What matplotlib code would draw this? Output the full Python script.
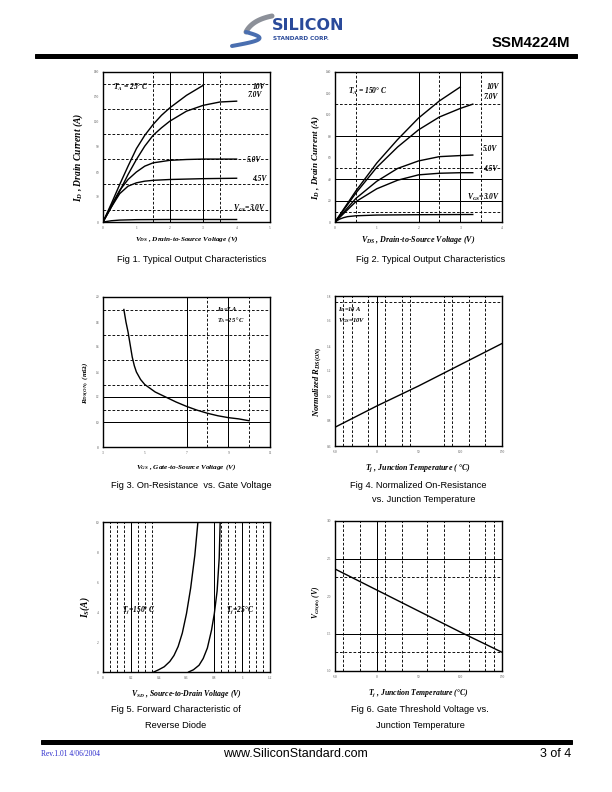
import numpy as np
import matplotlib
matplotlib.use("Agg")
import matplotlib.pyplot as plt
from matplotlib.patches import Rectangle

plt.rcParams['font.family'] = 'Liberation Serif'
plt.rcParams['mathtext.fontset'] = 'custom'
plt.rcParams['mathtext.it'] = 'Liberation Serif:italic:bold'
plt.rcParams['mathtext.rm'] = 'Liberation Serif:bold'
plt.rcParams['mathtext.bf'] = 'Liberation Serif:bold'

# ---- data ----
# Fig 1 : output characteristics, Ta = 25C
f1_vds_10 = [0, 0.25, 0.5, 0.75, 1, 1.25, 1.5, 1.75, 2, 2.5, 3]
f1_id_10 = [0, 22, 45, 67, 88, 104, 117, 128, 137, 152, 164]
f1_vds_7 = [0, 0.25, 0.5, 0.75, 1, 1.25, 1.5, 1.75, 2, 2.5, 3, 3.5, 4]
f1_id_7 = [0, 18, 37, 57, 75, 91, 104, 113, 121, 133, 140, 144, 145]
f1_vds_5 = [0, 0.25, 0.5, 0.75, 1, 1.25, 1.5, 2, 2.5, 3, 3.5, 4]
f1_id_5 = [0, 20, 38, 51, 60, 67, 71, 74, 75, 75.5, 75.5, 75.5]
f1_vds_45 = [0, 0.25, 0.5, 0.75, 1, 1.25, 1.5, 2, 3, 4]
f1_id_45 = [0, 18, 34, 43, 47, 49, 50, 51, 52, 52.5]
f1_vds_3 = [0, 0.25, 0.5, 1, 2, 3, 4]
f1_id_3 = [0, 1.5, 2.3, 2.8, 3, 3, 3]

# Fig 2 : output characteristics, Ta = 150C
f2_vds_10 = [0, 0.5, 1, 1.5, 2, 2.5, 3]
f2_id_10 = [0, 29, 55, 77, 97, 113, 126]
f2_vds_7 = [0, 0.5, 1, 1.5, 2, 2.5, 3, 3.3]
f2_id_7 = [0, 27, 51, 70, 86, 98, 106, 110]
f2_vds_5 = [0, 0.5, 1, 1.5, 2, 2.5, 3, 3.3]
f2_id_5 = [0, 22, 38, 50, 57, 61, 62, 62.5]
f2_vds_45 = [0, 0.5, 1, 1.5, 2, 2.5, 3, 3.3]
f2_id_45 = [0, 19, 31, 39, 44, 45.5, 46, 46]
f2_vds_3 = [0, 0.1, 0.2, 0.3, 0.5, 1, 2, 3.3]
f2_id_3 = [0, 2.5, 4, 5, 5.8, 6.5, 6.8, 7]

# Fig 3 : on-resistance vs gate voltage
f3_vgs = [4.0, 4.1, 4.2, 4.3, 4.4, 4.5, 4.6, 4.8, 5.0, 5.5, 6, 6.5, 7, 7.5, 8, 8.5, 9, 9.5, 10]
f3_rds = [19.0, 18.0, 17.2, 16.2, 15.2, 14.5, 14.0, 13.4, 13.0, 12.4, 12.0, 11.6, 11.25, 10.95,
          10.7, 10.5, 10.35, 10.25, 10.1]

# Fig 4 : normalized Rds(on) vs Tj
f4_tj = [-50, 0, 25, 50, 100, 150]
f4_rn = [0.75, 0.92, 1.0, 1.08, 1.25, 1.42]

# Fig 5 : body diode forward characteristic
f5_vsd_150 = [0.365, 0.40, 0.44, 0.48, 0.51, 0.54, 0.57, 0.60, 0.63, 0.66, 0.682]
f5_is_150 = [0, 0.15, 0.35, 0.7, 1.1, 1.7, 2.6, 3.9, 5.6, 7.8, 10]
f5_vsd_25 = [0.615, 0.65, 0.69, 0.72, 0.75, 0.78, 0.80, 0.82, 0.835, 0.842]
f5_is_25 = [0, 0.15, 0.45, 0.9, 1.6, 2.8, 3.9, 5.4, 7.6, 10]

# Fig 6 : gate threshold vs Tj
f6_tj = [-50, 0, 50, 100, 150]
f6_vth = [2.36, 2.08, 1.80, 1.52, 1.25]

W, H = 612.0, 792.0
fig = plt.figure(figsize=(8.5, 11), dpi=72)


def panel(left, top, xlim, ylim, xt, xtl, yt, ytl, sx, dx, sy, dy, xlab, ylab, ylx, xly, ysz, xsz):
    ax = fig.add_axes([left / W, 1 - (top + 150) / H, 167 / W, 150 / H])
    ax.set_xlim(xlim)
    ax.set_ylim(ylim)
    ax.set_xticks(xt)
    ax.set_xticklabels(xtl)
    ax.set_yticks(yt)
    ax.set_yticklabels(ytl)
    ax.tick_params(length=0, labelsize=3.5, pad=4, colors='#555555')
    for s in ax.spines.values():
        s.set_linewidth(1.4)
    for v in sx:
        ax.axvline(v, color='k', lw=1.0)
    for v in dx:
        ax.axvline(v, color='k', lw=0.9, ls=(0, (3, 2)))
    for v in sy:
        ax.axhline(v, color='k', lw=1.0)
    for v in dy:
        ax.axhline(v, color='k', lw=0.9, ls=(0, (3, 2)))
    ax.set_xlabel(xlab, fontsize=xsz, fontweight='bold', fontstyle='italic')
    ax.set_ylabel(ylab, fontsize=ysz, fontweight='bold', fontstyle='italic')
    ax.xaxis.set_label_coords(0.5, xly)
    ax.yaxis.set_label_coords(ylx, 0.43)
    return ax


def note(ax, x, y, s, size=7.5, ha='left'):
    ax.text(x, y, s, fontsize=size, fontweight='bold', fontstyle='italic', ha=ha, va='center')


lw = 1.4

# Fig 1
ax1 = panel(103, 72, (0, 5), (0, 180), range(6), [str(i) for i in range(6)],
            range(0, 181, 30), [str(i) for i in range(0, 181, 30)],
            [2, 3], [1.5, 3.5], [], [15, 45, 75, 105, 135, 165],
            r'$V_{DS}$ , Drain-to-Source Voltage (V)', r'$I_D$ , Drain Current (A)', -0.11, -0.08, 9.5, 7.3)
for xs, ys in [(f1_vds_10, f1_id_10), (f1_vds_7, f1_id_7), (f1_vds_5, f1_id_5),
               (f1_vds_45, f1_id_45), (f1_vds_3, f1_id_3)]:
    ax1.plot(xs, ys, color='k', lw=lw)
note(ax1, 0.3, 161, r'$T_A$ = 25$\degree$ C')
note(ax1, 4.5, 162, '10V')
note(ax1, 4.34, 152, '7.0V')
note(ax1, 4.3, 75, '5.0V')
note(ax1, 4.46, 52, '4.5V')
note(ax1, 3.9, 16, r'$V_{GS}$=3.0V')

# Fig 2
ax2 = panel(335, 72, (0, 4), (0, 140), range(5), [str(i) for i in range(5)],
            range(0, 141, 20), [str(i) for i in range(0, 141, 20)],
            [2, 3], [0.5, 2.5, 3.5], [20, 40, 80], [9, 50, 110],
            r'$V_{DS}$ , Drain-to-Source Voltage (V)', r'$I_D$ , Drain Current (A)', -0.08, -0.08, 9, 8)
for xs, ys in [(f2_vds_10, f2_id_10), (f2_vds_7, f2_id_7), (f2_vds_5, f2_id_5),
               (f2_vds_45, f2_id_45), (f2_vds_3, f2_id_3)]:
    ax2.plot(xs, ys, color='k', lw=lw)
note(ax2, 0.3, 122, r'$T_A$ = 150$\degree$ C')
note(ax2, 3.64, 126, '10V')
note(ax2, 3.57, 117, '7.0V')
note(ax2, 3.54, 68, '5.0V')
note(ax2, 3.55, 49.5, '4.5V')
note(ax2, 3.16, 22.5, r'$V_{GS}$=3.0V')

# Fig 3
ax3 = panel(103, 297, (3, 11), (8, 20), range(3, 12, 2), [str(i) for i in range(3, 12, 2)],
            range(8, 21, 2), [str(i) for i in range(8, 21, 2)],
            [7, 9], [8, 10], [10, 12], [11, 13, 15, 17, 19],
            r'$V_{GS}$ , Gate-to-Source Voltage (V)', r'$R_{DS(ON)}$  (m$\Omega$)', -0.07, -0.105, 7, 7.2)
ax3.plot(f3_vgs, f3_rds, color='k', lw=lw)
note(ax3, 8.45, 19.0, r'$I_D$=7 A', size=6.5)
note(ax3, 8.45, 18.15, r'$T_A$=25 $\degree$C', size=6.5)

# Fig 4
ax4 = panel(335, 296, (-50, 150), (0.6, 1.8), range(-50, 151, 50), [str(i) for i in range(-50, 151, 50)],
            np.arange(0.6, 1.81, 0.2), ['%.1f' % v for v in np.arange(0.6, 1.81, 0.2)],
            [0], [-40, -30, -10, 10, 30, 40, 80, 90, 110, 130], [], [1.75],
            r'$T_j$ , Junction Temperature ( $\degree$C)', r'Normalized $R_{DS(ON)}$', -0.066, -0.11, 8.5, 8)
ax4.plot(f4_tj, f4_rn, color='k', lw=lw)
note(ax4, -47, 1.69, r'$I_D$=10 A', size=6.5)
note(ax4, -47, 1.605, r'$V_{GS}$=10V', size=6.5)

# Fig 5
ax5 = panel(103, 522, (0, 1.2), (0, 10), np.arange(0, 1.21, 0.2),
            ['0', '0.2', '0.4', '0.6', '0.8', '1', '1.2'],
            range(0, 11, 2), [str(i) for i in range(0, 11, 2)],
            [0.2, 0.8, 1.0], [0.05, 0.1, 0.15, 0.25, 0.3, 0.35, 0.85, 0.9, 0.95, 1.05, 1.1, 1.15], [], [],
            r'$V_{SD}$ , Source-to-Drain Voltage (V)', r'$I_S$(A)', -0.066, -0.11, 9.5, 7.7)
ax5.plot(f5_vsd_150, f5_is_150, color='k', lw=lw)
ax5.plot(f5_vsd_25, f5_is_25, color='k', lw=lw)
note(ax5, 0.14, 4.1, r'$T_j$=150$\degree$ C')
note(ax5, 0.885, 4.1, r'$T_j$=25$\degree$C')

# Fig 6
ax6 = panel(335, 521, (-50, 150), (1.0, 3.0), range(-50, 151, 50), [str(i) for i in range(-50, 151, 50)],
            [1.0, 1.5, 2.0, 2.5, 3.0], ['1.0', '1.5', '2.0', '2.5', '3.0'],
            [0], [-40, -20, 10, 30, 60, 80, 110, 130, 140], [1.5, 2.5], [1.25, 2.25],
            r'$T_j$ , Junction Temperature ($\degree$C)', r'$V_{GS(th)}$ (V)', -0.08, -0.11, 7.5, 7.8)
ax6.yaxis.set_label_coords(-0.08, 0.46)
ax6.plot(f6_tj, f6_vth, color='k', lw=lw)

# captions
cap = dict(fontsize=9.3, family='Liberation Sans', ha='center', va='center')
fig.text(192 / W, 1 - 260 / H, 'Fig 1. Typical Output Characteristics', **cap)
fig.text(431 / W, 1 - 260 / H, 'Fig 2. Typical Output Characteristics', **cap)
fig.text(191 / W, 1 - 485 / H, 'Fig 3. On-Resistance  vs. Gate Voltage', **cap)
fig.text(418 / W, 1 - 485 / H, 'Fig 4. Normalized On-Resistance', **cap)
fig.text(424 / W, 1 - 500 / H, 'vs. Junction Temperature', **cap)
fig.text(176 / W, 1 - 710 / H, 'Fig 5. Forward Characteristic of', **cap)
fig.text(176 / W, 1 - 726 / H, 'Reverse Diode', **cap)
fig.text(420 / W, 1 - 710 / H, 'Fig 6. Gate Threshold Voltage vs.', **cap)
fig.text(420 / W, 1 - 726 / H, 'Junction Temperature', **cap)

# header
fig.text(570 / W, 1 - 43 / H, 'SSM4224M', fontsize=15, fontweight='bold', family='Liberation Sans',
         ha='right', va='center')
fig.patches.append(Rectangle((35 / W, 1 - 58 / H), 542 / W, 3.5 / H, transform=fig.transFigure,
                             color='k'))
# logo swoosh (upper grey blade, lower blue-grey blade)
t = np.linspace(0, 1, 50)
up_x = 272 - 40 * t + 14 * t ** 2
up_y = 16 + 8 * t + 8 * t ** 2
lo_x = 246 + 20 * np.sin(np.pi * t) - 14 * t
lo_y = 32 + 14 * t
fig.lines.append(plt.Line2D(up_x / W, 1 - up_y / H, transform=fig.transFigure, color='#8c9099', lw=5,
                            solid_capstyle='round'))
fig.lines.append(plt.Line2D(lo_x / W, 1 - lo_y / H, transform=fig.transFigure, color='#4a6fb0', lw=4,
                            solid_capstyle='round'))
fig.text(272 / W, 1 - 26 / H, 'SILICON', fontsize=16, fontweight='bold', family='DejaVu Sans',
         color='#2a4a9a', va='center')
fig.text(273 / W, 1 - 39 / H, 'STANDARD CORP.', fontsize=5.8, fontweight='bold', family='DejaVu Sans',
         color='#2a4a9a', va='center')

# footer
fig.patches.append(Rectangle((41 / W, 1 - 744 / H), 531 / W, 4 / H, transform=fig.transFigure,
                             color='k'))
fig.text(41 / W, 1 - 754 / H, 'Rev.1.01 4/06/2004', fontsize=7.5, color='#2b2bcc', va='center')
fig.text(295 / W, 1 - 754 / H, 'www.SiliconStandard.com', fontsize=12.5, family='Liberation Sans',
         ha='center', va='center')
fig.text(571 / W, 1 - 754 / H, '3 of 4', fontsize=12.5, family='Liberation Sans', ha='right', va='center')

fig.savefig('out.png', dpi=72)
